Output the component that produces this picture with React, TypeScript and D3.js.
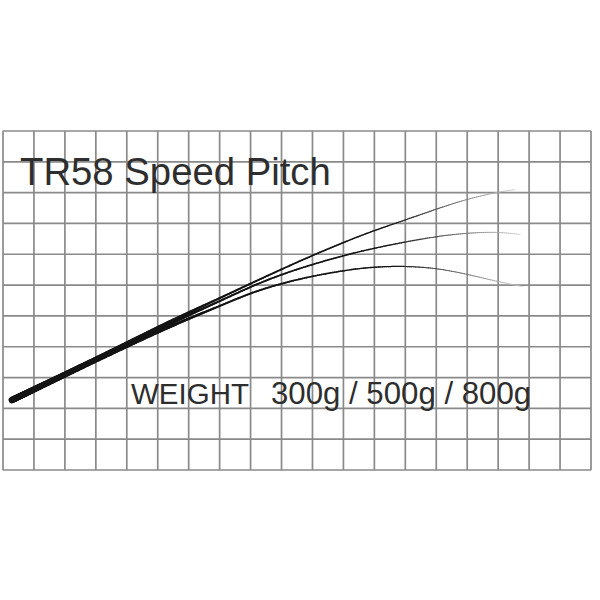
import React, { useEffect, useRef } from "react";
import * as d3 from "d3";

// Grid: 19 columns x 11 rows (grid units)
const gridCols = d3.range(0, 20);
const gridRows = d3.range(0, 12);

// Rod curves (grid units: x from left edge, y up from bottom edge)
const stations = [0.29, 1.84, 3.13, 4.1, 5.07, 6.04, 7.01, 7.98, 8.95, 9.92, 11.11, 11.96, 12.99, 14.01, 14.98, 15.99];
const y300 = [2.27, 3.03, 3.67, 4.16, 4.66, 5.13, 5.58, 6.04, 6.49, 6.93, 7.43, 7.76, 8.11, 8.47, 8.79, 9.02];
const y500 = [2.27, 3.02, 3.65, 4.12, 4.59, 5.05, 5.48, 5.94, 6.33, 6.65, 6.99, 7.19, 7.4, 7.58, 7.69, 7.73];
const y800 = [2.27, 3.01, 3.62, 4.07, 4.51, 4.93, 5.32, 5.74, 6.04, 6.28, 6.49, 6.59, 6.62, 6.55, 6.36, 6.11];
const tipX = [16.54, 16.71, 16.8];
const tipY = [9.1, 7.64, 5.95];

const titleText = "TR58 Speed Pitch";
const weightLabel = "WEIGHT";
const weightValues = "300g / 500g / 800g";

export default function App() {
  const ref = useRef<SVGSVGElement | null>(null);

  const x = d3.scaleLinear().domain([0, 19]).range([3, 591]);
  const y = d3.scaleLinear().domain([0, 11]).range([470, 131]);

  useEffect(() => {
    const svg = d3.select(ref.current);
    const g = svg.select<SVGGElement>("g.rods");
    g.selectAll("*").remove();
    const line = d3
      .line<[number, number]>()
      .x((d) => x(d[0]))
      .y((d) => y(d[1]))
      .curve(d3.curveBasis);
    const series: number[][] = [y800, y500, y300];
    const tipIdx = [2, 1, 0];
    const buttX = x(stations[0]);
    const colorScale = d3.interpolateRgb("#141414", "#cdcdcd");
    series.forEach((ys, si) => {
      const k = tipIdx[si];
      const pts = stations.map((v, i) => [v, ys[i]] as [number, number]);
      pts.push([tipX[k], tipY[k]]);
      const tmp = g.append("path").attr("d", line(pts) || "").attr("fill", "none").attr("stroke", "none");
      const node = tmp.node() as SVGPathElement;
      const L = node.getTotalLength();
      const N = 280;
      const endX = x(tipX[k]);
      const a = x(stations[3]);
      const b = x(stations[6]);
      for (let i = 0; i < N; i++) {
        const t0 = i / N;
        const t1 = (i + 1) / N;
        const p0 = node.getPointAtLength(t0 * L);
        const p1 = node.getPointAtLength(t1 * L);
        const px = (p0.x + p1.x) / 2;
        let w: number;
        if (px < a) {
          const f = (px - buttX) / (a - buttX);
          w = 6.3 - f * 2.5;
        } else if (px < b) {
          const f = (px - a) / (b - a);
          w = 3.8 - f * 1.8;
        } else {
          const f = (px - b) / (endX - b);
          w = 2.0 - f * 1.3;
        }
        const frac = (px - buttX) / (endX - buttX);
        const c = frac < 0.74 ? colorScale(0) : colorScale(Math.pow((frac - 0.74) / 0.26, 1.1));
        g.append("line")
          .attr("x1", p0.x)
          .attr("y1", p0.y)
          .attr("x2", p1.x)
          .attr("y2", p1.y)
          .attr("stroke", c)
          .attr("stroke-width", w)
          .attr("stroke-linecap", "round");
      }
      tmp.remove();
    });
  }, []);

  return (
    <svg
      ref={ref}
      width={600}
      height={600}
      style={{ position: "absolute", left: 0, top: 0, background: "#fff" }}
    >
      <rect x={0} y={0} width={600} height={600} fill="#fff" />
      <g className="grid" stroke="#8a8a8a" strokeWidth={1.7}>
        {gridCols.map((c) => (
          <line key={"c" + c} x1={x(c)} x2={x(c)} y1={y(0)} y2={y(11)} />
        ))}
        {gridRows.map((r) => (
          <line key={"r" + r} x1={x(0)} x2={x(19)} y1={y(r)} y2={y(r)} />
        ))}
      </g>
      <text
        x={20}
        y={184.5}
        fontFamily="'Liberation Sans', Arial, Helvetica, sans-serif"
        fontSize={38.3}
        fill="#2e2e2e"
      >
        {titleText}
      </text>
      <g className="rods" />
      <text
        x={131}
        y={403.5}
        fontFamily="'Liberation Sans', Arial, Helvetica, sans-serif"
        fontSize={29.5}
        fill="#2e2e2e"
      >
        {weightLabel}
      </text>
      <text
        x={271}
        y={403.5}
        fontFamily="'Liberation Sans', Arial, Helvetica, sans-serif"
        fontSize={31.2}
        fill="#2e2e2e"
      >
        {weightValues}
      </text>
    </svg>
  );
}
